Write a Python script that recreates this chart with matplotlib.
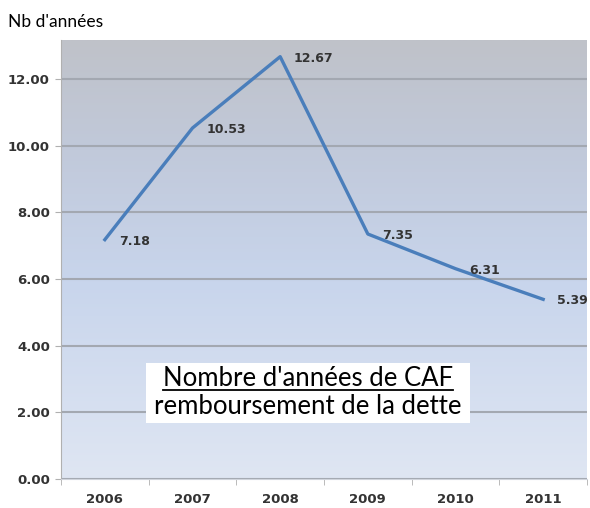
import numpy as np
import matplotlib.pyplot as plt
from matplotlib.colors import LinearSegmentedColormap
from matplotlib.patches import Rectangle
from matplotlib.lines import Line2D

# Data
years = ["2006", "2007", "2008", "2009", "2010", "2011"]
values = [7.18, 10.53, 12.67, 7.35, 6.31, 5.39]
y_ticks = [0, 2, 4, 6, 8, 10, 12]
title_lines = ["Nombre d'années de CAF", "remboursement de la dette"]

W, H = 590, 508
fig = plt.figure(figsize=(W / 100, H / 100), dpi=100)
ax = fig.add_axes([61 / W, 1 - 479 / H, 526 / W, 439 / H])

ymax = 13.17
x = np.arange(len(years))

# Gradient background
cmap = LinearSegmentedColormap.from_list(
    "bg", [(0.0, "#dfe6f3"), (0.45, "#c8d5ec"), (0.75, "#c1c9da"), (1.0, "#bfc2c9")])
grad = np.linspace(0, 1, 256).reshape(-1, 1)
ax.imshow(grad, cmap=cmap, aspect="auto", origin="lower",
          extent=[-0.5, 5.5, 0, ymax], zorder=0)

for t in y_ticks:
    ax.axhline(t, color="#a3a8b1", lw=1.5, zorder=1)

ax.plot(x, values, color="#4a7ebb", lw=2.4, zorder=3)

for xi, v in zip(x, values):
    ax.annotate(f"{v:.2f}", (xi, v), xytext=(10, -1), textcoords="offset points",
                ha="left", va="center", fontsize=9, fontweight="bold", color="#333333",
                zorder=4)

ax.set_xlim(-0.5, 5.5)
ax.set_ylim(0, ymax)
ax.set_yticks(y_ticks)
ax.set_yticklabels([f"{t:.2f}" for t in y_ticks], fontsize=9.5, fontweight="bold", color="#333333")
ax.set_xticks(x)
ax.set_xticklabels(years, fontsize=9.5, fontweight="bold", color="#333333")
ax.set_xticks(np.arange(-0.5, 6, 1), minor=True)
ax.tick_params(axis="x", which="major", length=0, pad=10)
ax.tick_params(axis="x", which="minor", length=4, color="#b0b0b0")
ax.tick_params(axis="y", length=4, color="#b0b0b0", pad=4)

for side in ["top", "right"]:
    ax.spines[side].set_visible(False)
ax.spines["left"].set_color("#b0b0b0")
ax.spines["bottom"].set_color("#d0d4dc")

fig.text(8 / W, 1 - 22 / H, "Nb d'années", fontsize=12.5, family="Lato", va="center")

# Title box (white background, first line underlined)
fig.add_artist(Rectangle((146 / W, 1 - 423 / H), 324 / W, 60 / H,
                         transform=fig.transFigure, facecolor="white", edgecolor="none", zorder=5))
t1 = fig.text(308 / W, 1 - 378 / H, title_lines[0], ha="center", va="center",
              fontsize=18.5, family="Lato", zorder=6)
t2 = fig.text(308 / W, 1 - 407 / H, title_lines[1], ha="center", va="center",
              fontsize=18.5, family="Lato", zorder=6)
fig.canvas.draw()
bb = t1.get_window_extent()
uy = 1 - 389.5 / H
fig.add_artist(Line2D([bb.x0 / W, bb.x1 / W], [uy, uy], transform=fig.transFigure,
                      color="black", lw=1.3, zorder=7))

fig.savefig("out.png", dpi=100)
